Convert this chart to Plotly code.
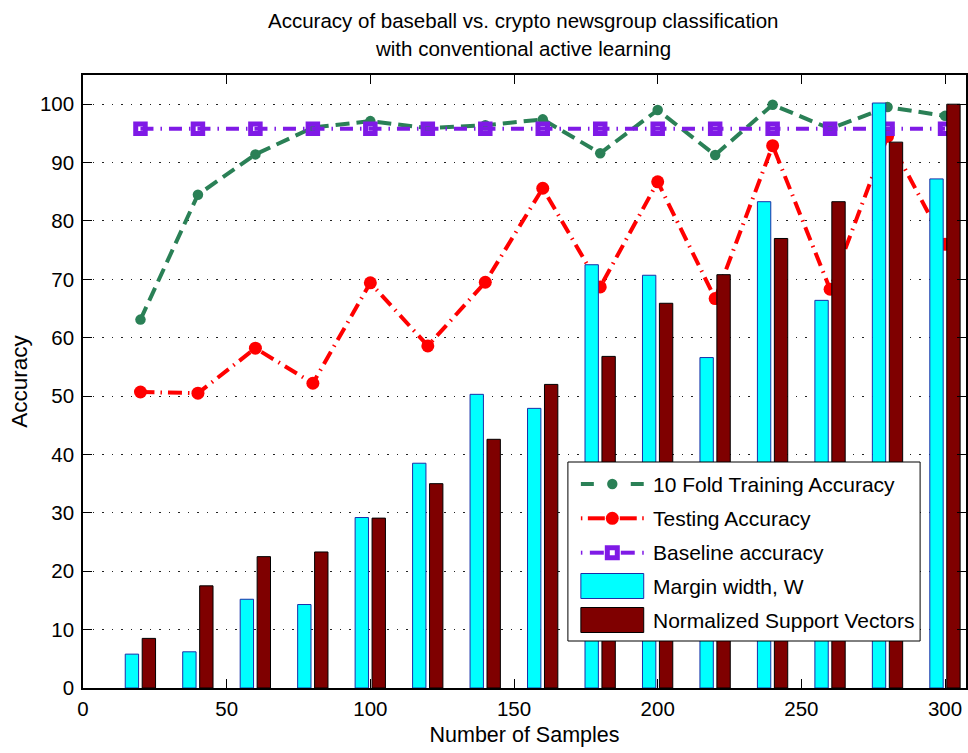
import plotly.graph_objects as go

# ---------------- data ----------------
samples = [20, 40, 60, 80, 100, 120, 140, 160, 180, 200, 220, 240, 260, 280, 300]
train_acc = [63.1, 84.5, 91.4, 96.0, 97.1, 95.9, 96.4, 97.4, 91.6, 99.0, 91.3, 99.9, 95.8, 99.5, 98.0]
test_acc = [50.7, 50.5, 58.2, 52.2, 69.4, 58.6, 69.5, 85.6, 68.7, 86.7, 66.7, 92.9, 68.3, 94.5, 76.0]
baseline_acc = [95.8, 95.8, 95.8, 95.8, 95.8, 95.8, 95.8, 95.8, 95.8, 95.8, 95.8, 95.8, 95.8, 95.8, 95.8]
margin_width = [5.8, 6.2, 15.2, 14.3, 29.2, 38.5, 50.3, 47.9, 72.5, 70.7, 56.6, 83.3, 66.4, 100.2, 87.2]
norm_sv = [8.5, 17.5, 22.5, 23.3, 29.1, 35.0, 42.6, 52.0, 56.8, 65.9, 70.8, 77.0, 83.3, 93.5, 100.0]
x_ticks = [0, 50, 100, 150, 200, 250, 300]
y_ticks = [0, 10, 20, 30, 40, 50, 60, 70, 80, 90, 100]

legend_labels = ["10 Fold Training Accuracy", "Testing Accuracy", "Baseline accuracy",
                 "Margin width, W", "Normalized Support Vectors"]
title_lines = ["Accuracy of baseball vs. crypto newsgroup classification",
               "with conventional active learning"]

# ---------------- style ----------------
GREEN = "#2a8056"
RED = "#ff0000"
PURPLE = "#7f1ae6"
CYAN = "#00ffff"
MAROON = "#7f0000"
FONT = "Liberation Sans, Arial, Helvetica, sans-serif"

W, H = 968, 753
L, T, R, B = 83, 75, 0, 65
PW, PH = W - L - R, H - T - B


def px(x):
    return (x - L) / PW


def py(y):
    return (T + PH - y) / PH


fig = go.Figure()

fig.add_trace(go.Scatter(
    x=samples, y=train_acc, mode="lines+markers", name=legend_labels[0],
    line=dict(color=GREEN, width=4, dash="14px,7px"),
    marker=dict(symbol="circle", size=10.5, color=GREEN),
    showlegend=False))
fig.add_trace(go.Scatter(
    x=samples, y=test_acc, mode="lines+markers", name=legend_labels[1],
    line=dict(color=RED, width=4, dash="14px,6px,1.5px,6px"),
    marker=dict(symbol="circle", size=13, color=RED),
    showlegend=False))
fig.add_trace(go.Scatter(
    x=samples, y=baseline_acc, mode="lines+markers", name=legend_labels[2],
    line=dict(color=PURPLE, width=4, dash="13px,7px,1.5px,7px"),
    marker=dict(symbol="square-open", size=9.5, color=PURPLE, line=dict(width=5, color=PURPLE)),
    showlegend=False))

# bars on an overlaying axis pair so they are painted above the lines
fig.add_trace(go.Bar(
    x=samples, y=margin_width, name=legend_labels[3], width=4.65, offset=-5.3,
    marker=dict(color=CYAN, line=dict(color="#1a2fa8", width=1)),
    xaxis="x2", yaxis="y2", showlegend=False))
fig.add_trace(go.Bar(
    x=samples, y=norm_sv, name=legend_labels[4], width=4.65, offset=0.6,
    marker=dict(color=MAROON, line=dict(color="#000000", width=1)),
    xaxis="x2", yaxis="y2", showlegend=False))

xr = [0, PW / 2.88]
yr = [0, 105]

fig.update_layout(
    width=W, height=H,
    margin=dict(l=L, r=R, t=T, b=B, pad=0),
    paper_bgcolor="white", plot_bgcolor="white",
    barmode="overlay",
    font=dict(family=FONT, size=20, color="black"),
    xaxis=dict(range=xr, tickvals=x_ticks, ticks="inside", ticklen=9, tickwidth=1,
               tickcolor="black", showline=True, linecolor="black", linewidth=1.5,
               mirror="ticks", showgrid=False, zeroline=False,
               tickfont=dict(family=FONT, size=20.5), ticklabelstandoff=2,
               title=dict(text="Number of Samples", font=dict(family=FONT, size=21.5), standoff=8)),
    yaxis=dict(range=yr, tickvals=y_ticks, ticks="inside", ticklen=9, tickwidth=1,
               tickcolor="black", showline=True, linecolor="black", linewidth=1.5,
               mirror="ticks", showgrid=True, gridcolor="#222222", gridwidth=1,
               griddash="1.5px,8px", zeroline=False,
               tickfont=dict(family=FONT, size=20.5), ticklabelstandoff=3,
               title=dict(text="Accuracy", font=dict(family=FONT, size=22.5), standoff=6)),
    xaxis2=dict(range=xr, overlaying="x", matches="x", visible=False),
    yaxis2=dict(range=yr, overlaying="y", matches="y", visible=False),
)

# title (two lines)
for txt, yc in zip(title_lines, [20, 48]):
    fig.add_annotation(text=txt, xref="paper", yref="paper", x=px(524), y=py(yc),
                       xanchor="center", yanchor="middle", showarrow=False,
                       font=dict(family=FONT, size=20.5, color="black"))

# ---------------- legend (drawn) ----------------
shapes = []
shapes.append(dict(type="rect", xref="paper", yref="paper", x0=px(569), x1=px(922),
                   y0=py(641), y1=py(462), line=dict(color="black", width=1),
                   fillcolor="white", layer="above"))
rows = [484, 518.3, 552.7, 586, 620]


def seg(x0, x1, y, color, width=4):
    shapes.append(dict(type="line", xref="paper", yref="paper", x0=px(x0), x1=px(x1),
                       y0=py(y), y1=py(y), line=dict(color=color, width=width), layer="above"))


def circ(xc, yc, r, color):
    shapes.append(dict(type="circle", xref="paper", yref="paper",
                       x0=px(xc - r), x1=px(xc + r), y0=py(yc + r), y1=py(yc - r),
                       fillcolor=color, line=dict(color=color, width=0), layer="above"))


# green
seg(582, 595, rows[0], GREEN)
seg(632, 645, rows[0], GREEN)
circ(613.5, rows[0], 5.2, GREEN)
# red
seg(582, 583.5, rows[1], RED)
seg(589, 606, rows[1], RED)
seg(621, 638, rows[1], RED)
seg(643.5, 645, rows[1], RED)
circ(613.5, rows[1], 6.5, RED)
# purple
seg(582, 583.5, rows[2], PURPLE)
seg(591, 605, rows[2], PURPLE)
seg(622, 636, rows[2], PURPLE)
seg(643.5, 645, rows[2], PURPLE)
shapes.append(dict(type="rect", xref="paper", yref="paper", x0=px(608.5), x1=px(618.5),
                   y0=py(rows[2] + 5), y1=py(rows[2] - 5), fillcolor="white",
                   line=dict(color=PURPLE, width=5), layer="above"))
# bars
shapes.append(dict(type="rect", xref="paper", yref="paper", x0=px(582), x1=px(645),
                   y0=py(rows[3] + 12.5), y1=py(rows[3] - 12.5), fillcolor=CYAN,
                   line=dict(color="#1a2fa8", width=1), layer="above"))
shapes.append(dict(type="rect", xref="paper", yref="paper", x0=px(582), x1=px(645),
                   y0=py(rows[4] + 12.5), y1=py(rows[4] - 12.5), fillcolor=MAROON,
                   line=dict(color="black", width=1), layer="above"))
fig.update_layout(shapes=shapes)

for lab, yc in zip(legend_labels, rows):
    fig.add_annotation(text=lab, xref="paper", yref="paper", x=px(652), y=py(yc),
                       xanchor="left", yanchor="middle", showarrow=False,
                       font=dict(family=FONT, size=21, color="black"))

fig.write_html("out.html")
